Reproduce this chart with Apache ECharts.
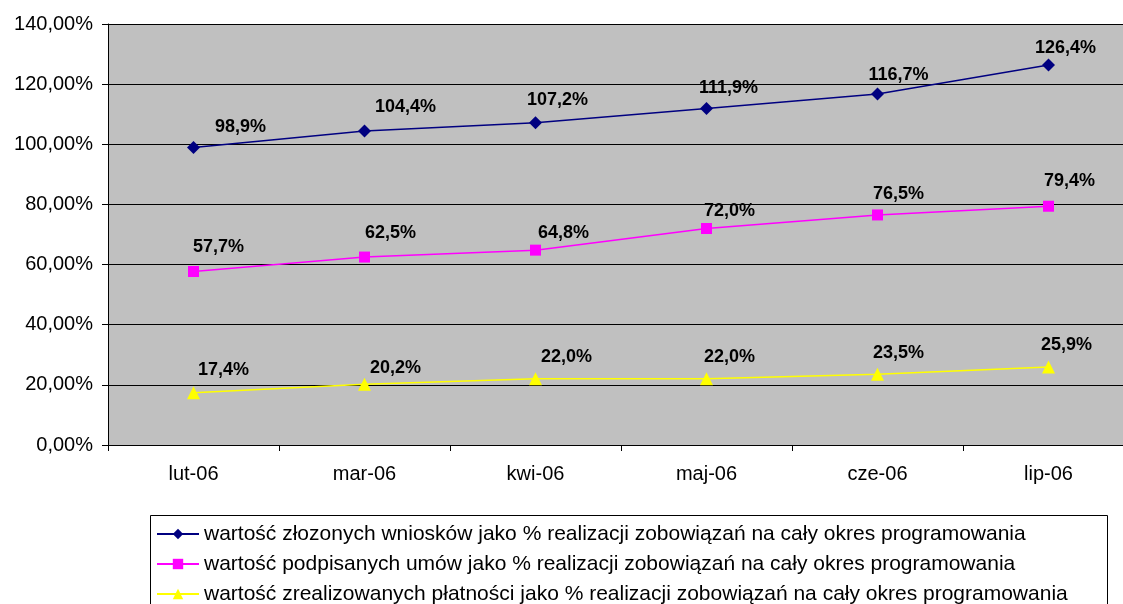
<!DOCTYPE html>
<html>
<head>
<meta charset="utf-8">
<script src="https://cdn.jsdelivr.net/npm/echarts@6/dist/echarts.min.js"></script>
<style>
  html, body { margin: 0; padding: 0; background: #fff; }
  #main { width: 1123px; height: 604px; }
</style>
</head>
<body>
<div id="main"></div>
<script>
// dane z wykresu
var months = ['lut-06', 'mar-06', 'kwi-06', 'maj-06', 'cze-06', 'lip-06'];
var wnioski = [98.9, 104.4, 107.2, 111.9, 116.7, 126.4];
var umowy = [57.7, 62.5, 64.8, 72.0, 76.5, 79.4];
var platnosci = [17.4, 20.2, 22.0, 22.0, 23.5, 25.9];
var seriesNames = [
  'wartość złozonych wniosków jako % realizacji zobowiązań na cały okres programowania',
  'wartość podpisanych umów jako % realizacji zobowiązań na cały okres programowania',
  'wartość zrealizowanych płatności jako % realizacji zobowiązań na cały okres programowania'
];

// przesuniecia etykiet (styl)
var offs1 = [[47, -21], [41, -24], [22, -23], [22, -20], [21, -19], [17, -17]];
var offs2 = [[25, -24], [26, -24], [28, -17], [23, -17], [21, -21], [21, -25]];
var offs3 = [[30, -23], [31, -16], [31, -22], [23, -22], [21, -21], [18, -22]];

var font = 'Liberation Sans, Arial, sans-serif';

function fmt(v) {
  return v.toFixed(1).replace('.', ',') + '%';
}

function makeSeries(name, values, color, symbol, size, offs) {
  return {
    name: name,
    type: 'line',
    data: values.map(function (v, i) {
      return {
        value: v,
        label: { offset: offs[i] }
      };
    }),
    symbol: symbol,
    symbolSize: size,
    lineStyle: { color: color, width: 1.5 },
    itemStyle: { color: color },
    label: {
      show: true,
      position: 'inside',
      formatter: function (p) { return fmt(p.value); },
      color: '#000',
      fontWeight: 'bold',
      fontSize: 18,
      fontFamily: font
    },
    animation: false
  };
}

var chart = echarts.init(document.getElementById('main'));

var option = {
  backgroundColor: '#ffffff',
  animation: false,
  grid: {
    left: 108,
    right: -11,
    top: 24,
    bottom: 159,
    outerBoundsMode: 'none',
    show: true,
    backgroundColor: '#c0c0c0',
    borderWidth: 0
  },
  graphic: [{
    type: 'rect',
    shape: { x: 150.5, y: 515.5, width: 957, height: 100 },
    style: { fill: '#fff', stroke: '#000', lineWidth: 1 },
    z: 0
  }],
  legend: {
    orient: 'vertical',
    left: 156,
    top: 523,
    height: 300,
    itemWidth: 42,
    itemHeight: 13,
    itemGap: 8,
    padding: 0,
    textStyle: { fontSize: 21, lineHeight: 22, fontFamily: font, color: '#000' },
    data: seriesNames
  },
  xAxis: {
    type: 'category',
    data: months,
    boundaryGap: true,
    axisLine: { lineStyle: { color: '#000', width: 1 } },
    axisTick: { show: true, length: 6, lineStyle: { color: '#000' } },
    axisLabel: { color: '#000', fontSize: 20, fontFamily: font, margin: 19 }
  },
  yAxis: {
    type: 'value',
    min: 0,
    max: 140,
    interval: 20,
    axisLine: { show: true, lineStyle: { color: '#000', width: 1 } },
    axisTick: { show: true, length: 6, lineStyle: { color: '#000' } },
    axisLabel: {
      color: '#000',
      fontSize: 20,
      fontFamily: font,
      margin: 15,
      formatter: function (v) { return v.toFixed(2).replace('.', ',') + '%'; }
    },
    splitLine: { show: true, lineStyle: { color: '#000', width: 1 } }
  },
  series: [
    makeSeries(seriesNames[0], wnioski, '#000080', 'diamond', 13, offs1),
    makeSeries(seriesNames[1], umowy, '#ff00ff', 'rect', 11, offs2),
    makeSeries(seriesNames[2], platnosci, '#ffff00', 'triangle', 13, offs3)
  ]
};

chart.setOption(option);
</script>
</body>
</html>
